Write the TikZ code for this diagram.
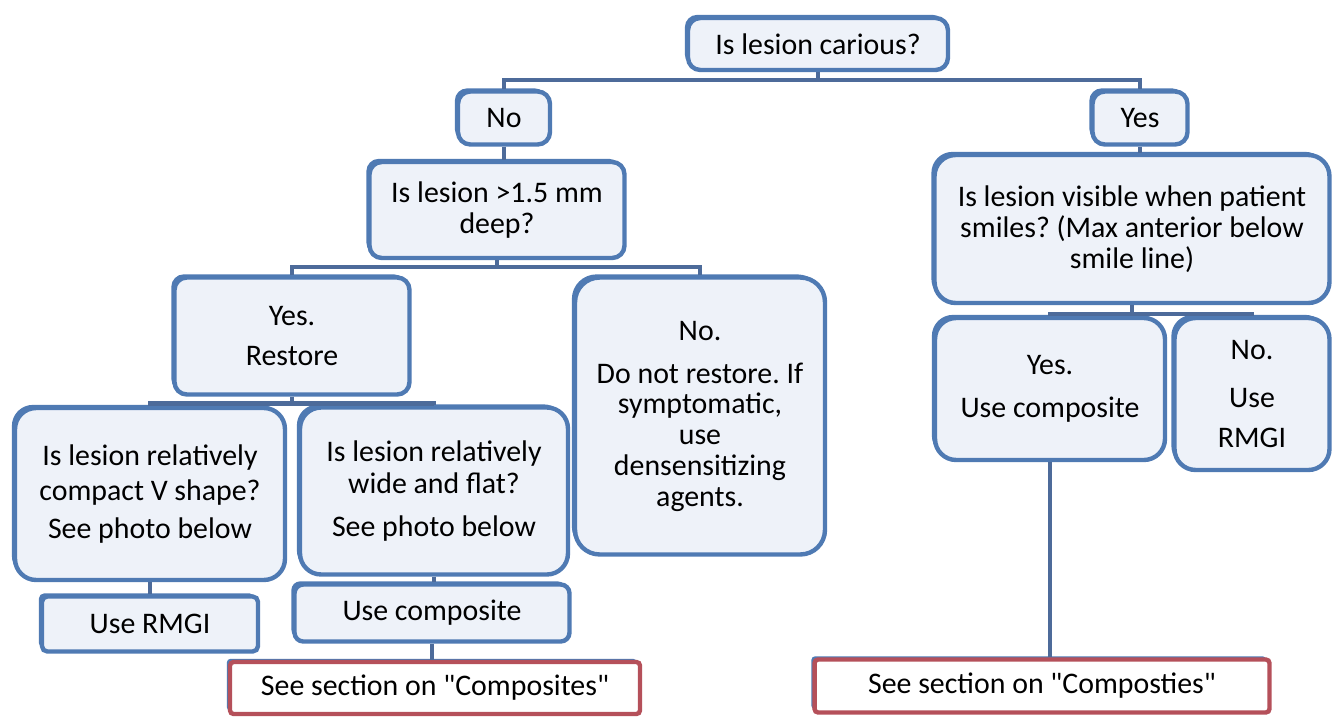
\documentclass[tikz,border=0pt]{standalone}
\usepackage{fontspec}
\setmainfont{Carlito}
\frenchspacing
\usetikzlibrary{positioning, shadows}
\definecolor{boxblue}{HTML}{4F7AB3}
\definecolor{boxfill}{HTML}{EEF2F9}
\definecolor{linkblue}{HTML}{4D6B9A}
\definecolor{boxred}{HTML}{B5505A}
\tikzset{
  box/.style={draw=boxblue, line width=2.5pt, fill=boxfill, rounded corners=7pt,
    align=center, inner sep=2pt, font=\fontsize{17}{17.5}\selectfont,
    general shadow={shadow xshift=-1.8pt, shadow yshift=1.8pt, fill=boxblue}},
  refbox/.style={box, draw=boxred, fill=white, rounded corners=2pt},
  link/.style={draw=linkblue, line width=2.5pt},
}
\begin{document}
\begin{tikzpicture}[x=0.02cm, y=-0.02cm]
	\useasboundingbox (0,0) rectangle (1335,717);
	
	% left branch
	\node[box, minimum width=5.2cm, minimum height=1.04cm] (root) at (818,44) {Is lesion carious?};
	\node[box, minimum width=1.84cm, minimum height=1.06cm] (no) at (504,118) {No};
	\node[box, minimum width=5.1cm, minimum height=1.92cm] (deep) at (497,210) {Is lesion >1.5 mm\\deep?};
	\node[box, minimum width=4.7cm, minimum height=2.34cm] (restore) at (292,336) {Yes.\\[5.5pt]Restore};
	\node[box, minimum width=5.0cm, minimum height=5.54cm, rounded corners=14pt] (norestore) at (700,416)
		{No.\\[7pt]Do not restore. If\\symptomatic,\\use\\densensitizing\\agents.};
	\node[box, minimum width=5.4cm, minimum height=3.44cm, rounded corners=12pt] (compact) at (150,494)
		{Is lesion relatively\\[2.5pt]compact V shape?\\[4pt]See photo below};
	\node[box, minimum width=5.36cm, minimum height=3.34cm, rounded corners=12pt] (wide) at (434,491)
		{Is lesion relatively\\[0.5pt]wide and flat?\\[7pt]See photo below};
	\node[box, minimum width=4.32cm, minimum height=1.1cm, rounded corners=3pt] (rmgi) at (150,624) {Use RMGI};
	\node[box, minimum width=5.5cm, minimum height=1.14cm, rounded corners=5pt] (comp) at (432,613) {Use composite};
	\node[refbox, minimum width=8.2cm, minimum height=1.04cm] (seecomp) at (435,688)
		{See section on \textquotedbl Composites\textquotedbl};
	
	% right branch
	\node[box, minimum width=1.9cm, minimum height=1.06cm] (yes) at (1140,118) {Yes};
	\node[box, minimum width=7.9cm, minimum height=2.96cm, rounded corners=12pt] (visible) at (1132,229)
		{Is lesion visible when patient\\smiles? (Max anterior below\\smile line)};
	\node[box, minimum width=4.6cm, minimum height=2.84cm, rounded corners=12pt] (yescomp) at (1050,389)
		{Yes.\\[7pt]Use composite};
	\node[box, minimum width=3.1cm, minimum height=3.04cm, rounded corners=12pt] (normgi) at (1252,394)
		{No.\\[9.5pt]Use\\[5.5pt]RMGI};
	\node[refbox, minimum width=9.1cm, minimum height=1.06cm] (seecomp2) at (1042,686)
		{See section on \textquotedbl Composties\textquotedbl};
	
	% connectors
	\draw[link] (root.south) -- ++(0,8) -| (no.north);
	\draw[link] (root.south) -- ++(0,8) -| (yes.north);
	\draw[link] (no.south) -- (no.south |- deep.north);
	\draw[link] (deep.south) -- ++(0,7) -| (restore.north);
	\draw[link] (deep.south) -- ++(0,7) -| (norestore.north);
	\draw[link] (restore.south) -- ++(0,7) -| (compact.north);
	\draw[link] (restore.south) -- ++(0,7) -| (wide.north);
	\draw[link] (compact.south) -- (compact.south |- rmgi.north);
	\draw[link] (wide.south) -- (wide.south |- comp.north);
	\draw[link] (comp.south) -- (comp.south |- seecomp.north);
	\draw[link] (yes.south) -- (yes.south |- visible.north);
	\draw[link] (visible.south) -- ++(0,9) -| (yescomp.north);
	\draw[link] (visible.south) -- ++(0,9) -| (normgi.north);
	\draw[link] (yescomp.south) -- (yescomp.south |- seecomp2.north);
	
\end{tikzpicture}
\end{document}
